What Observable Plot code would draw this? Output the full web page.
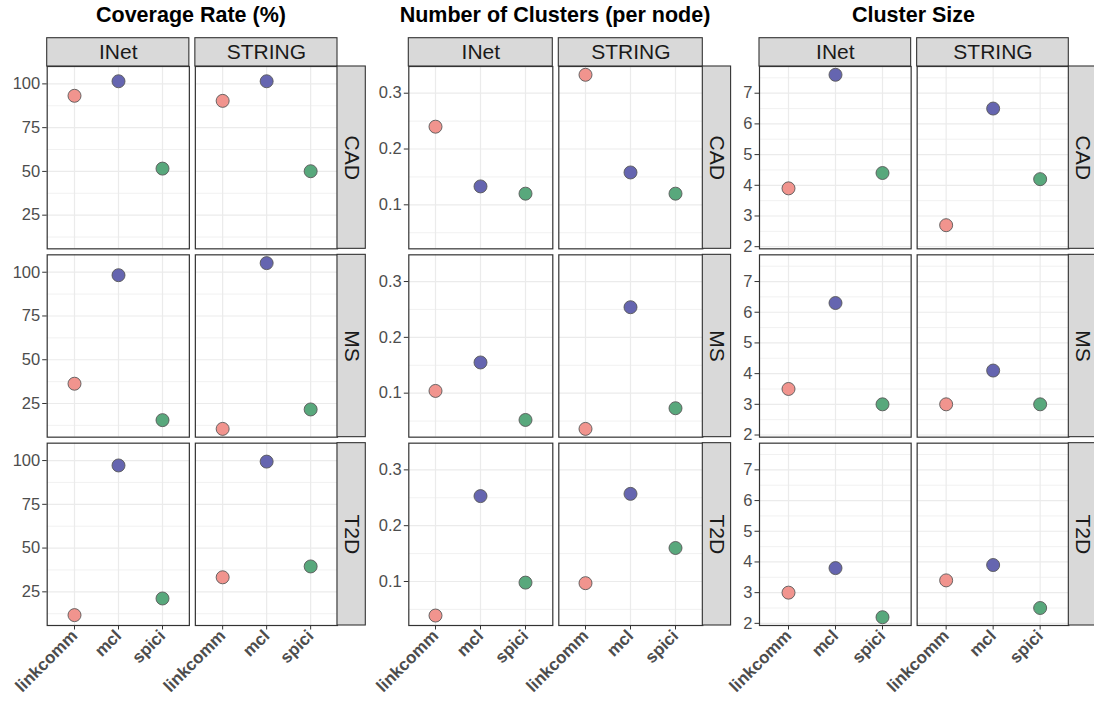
<!DOCTYPE html>
<html><head><meta charset="utf-8">
<script src="https://cdn.jsdelivr.net/npm/d3@7"></script>
<script src="https://cdn.jsdelivr.net/npm/@observablehq/plot@0.6"></script>
<style>
body{margin:0;background:#fff;font-family:'Liberation Sans',Arial,sans-serif;}
#root{position:relative;width:1094px;height:702px;overflow:hidden;background:#fff;}
.title{position:absolute;top:4.5px;width:400px;text-align:center;font-weight:bold;font-size:21.5px;line-height:1;color:#000;white-space:nowrap;}
.panel{position:absolute;top:30px;}
</style></head><body><div id="root"></div>
<script>
const methods = ["linkcomm", "mcl", "spici"];
const networks = ["INet", "STRING"];
const diseases = ["CAD", "MS", "T2D"];
const methodColors = ["#F1948E", "#6565B0", "#58A87C"];
const titles = ["Coverage Rate (%)", "Number of Clusters (per node)", "Cluster Size"];
// values ordered: CAD (linkcomm, mcl, spici), MS (...), T2D (...)
const coverageINet   = [93.2, 101.5, 51.6, 36.3, 98.3, 15.5, 11.7, 97.2, 21.2];
const coverageSTRING = [90.3, 101.5, 50.1, 10.5, 105.2, 21.6, 33.3, 99.4, 39.5];
const clustersINet   = [0.240, 0.133, 0.120, 0.104, 0.155, 0.052, 0.039, 0.253, 0.098];
const clustersSTRING = [0.333, 0.158, 0.120, 0.036, 0.254, 0.073, 0.097, 0.257, 0.160];
const sizeINet   = [3.9, 7.6, 4.4, 3.5, 6.3, 3.0, 3.0, 3.8, 2.2];
const sizeSTRING = [2.7, 6.5, 4.2, 3.0, 4.1, 3.0, 3.4, 3.9, 2.5];
const coverageTicks = [25, 50, 75, 100];
const clustersTicks = [0.1, 0.2, 0.3];
const sizeTicks = [2, 3, 4, 5, 6, 7];
const coverageMinor = [12.5, 37.5, 62.5, 87.5];
const clustersMinor = [0.05, 0.15, 0.25];
const sizeMinor = [2.5, 3.5, 4.5, 5.5, 6.5, 7.5];

const panels = [
  {title: titles[0], values: {INet: coverageINet, STRING: coverageSTRING}, ticks: coverageTicks, minor: coverageMinor, left: 0, width: 366, mL: 46.7, mR: 29, titleX: 191},
  {title: titles[1], values: {INet: clustersINet, STRING: clustersSTRING}, ticks: clustersTicks, minor: clustersMinor, left: 366, width: 366, mL: 42.3, mR: 29.7, titleX: 555},
  {title: titles[2], values: {INet: sizeINet, STRING: sizeSTRING}, ticks: sizeTicks, minor: sizeMinor, left: 732, width: 362, mL: 27, mR: 25.7, titleX: 913.5}
];

const root = document.getElementById("root");

function makePanel(cfg) {
  const rows = [];
  networks.forEach((net) => {
    const vals = cfg.values[net];
    diseases.forEach((dis, di) => methods.forEach((m, mi) => rows.push({net, disease: dis, method: m, value: vals[di * 3 + mi]})));
  });
  const ext = d3.extent(rows, d => d.value);
  const pad = (ext[1] - ext[0]) * 0.05;
  const domain = [ext[0] - pad, ext[1] + pad];
  const H = 672, mT = 36, mB = 77, W = cfg.width, gap = 6, strip = 28.3;
  const Lx = W - cfg.mL - cfg.mR, Ly = H - mT - mB;
  const px = gap * 2 / (Lx + gap), py = gap * 3 / (Ly + gap);
  const bandW = (Lx - gap) / 2, bandH = (Ly - 2 * gap) / 3;
  const topStrips = networks.map(n => ({net: n, disease: "CAD", label: n}));
  const rightStrips = diseases.map(d => ({net: "STRING", disease: d, label: d}));
  return Plot.plot({
    width: W, height: H,
    marginTop: mT, marginBottom: mB, marginLeft: cfg.mL, marginRight: cfg.mR,
    style: {fontFamily: "'Liberation Sans', Arial, sans-serif", fontSize: "16px", background: "transparent", overflow: "visible"},
    fx: {domain: networks, axis: null, paddingInner: px, paddingOuter: 0, round: false},
    fy: {domain: diseases, axis: null, paddingInner: py, paddingOuter: 0, round: false},
    x: {type: "point", domain: methods, padding: 0.6},
    y: {domain},
    color: {domain: methods, range: methodColors},
    marks: [
      Plot.gridY(cfg.minor, {stroke: "#ebebeb", strokeOpacity: 1, strokeWidth: 0.7}),
      Plot.gridY(cfg.ticks, {stroke: "#ebebeb", strokeOpacity: 1, strokeWidth: 1.2}),
      Plot.gridX(methods, {stroke: "#ebebeb", strokeOpacity: 1, strokeWidth: 1.2}),
      Plot.axisY(cfg.ticks, {tickSize: 4.5, tickPadding: 2.5, color: "#4d4d4d", stroke: "#333", fontSize: 16.5, label: null, tickFormat: d => String(d)}),
      Plot.axisX({tickRotate: -45, tickSize: 4.5, tickPadding: 3, color: "#4d4d4d", stroke: "#333", fontSize: 17, fontWeight: "bold", label: null}),
      Plot.dot(rows, {x: "method", y: "value", fx: "net", fy: "disease", fill: "method", r: 6.5, stroke: "#595959", strokeWidth: 0.9}),
      Plot.frame({stroke: "#333", strokeWidth: 1.2}),
      Plot.rect(topStrips, {fx: "net", fy: "disease", fill: "#d9d9d9", stroke: "#333", strokeWidth: 1.1, insetTop: -strip, insetBottom: bandH}),
      Plot.text(topStrips, {fx: "net", fy: "disease", text: "label", frameAnchor: "top", lineAnchor: "middle", textAnchor: "middle", dy: -strip / 2, fontSize: 21, fill: "#1a1a1a"}),
      Plot.rect(rightStrips, {fx: "net", fy: "disease", fill: "#d9d9d9", stroke: "#333", strokeWidth: 1.1, insetLeft: bandW, insetRight: -strip}),
      Plot.text(rightStrips, {fx: "net", fy: "disease", text: "label", frameAnchor: "right", lineAnchor: "middle", textAnchor: "middle", dx: strip / 2, rotate: 90, fontSize: 21, fill: "#1a1a1a"})
    ]
  });
}

panels.forEach(cfg => {
  const t = document.createElement("div");
  t.className = "title";
  t.style.left = (cfg.titleX - 200) + "px";
  t.textContent = cfg.title;
  root.appendChild(t);
  const wrap = document.createElement("div");
  wrap.className = "panel";
  wrap.style.left = cfg.left + "px";
  wrap.appendChild(makePanel(cfg));
  root.appendChild(wrap);
});
</script>
</body></html>
